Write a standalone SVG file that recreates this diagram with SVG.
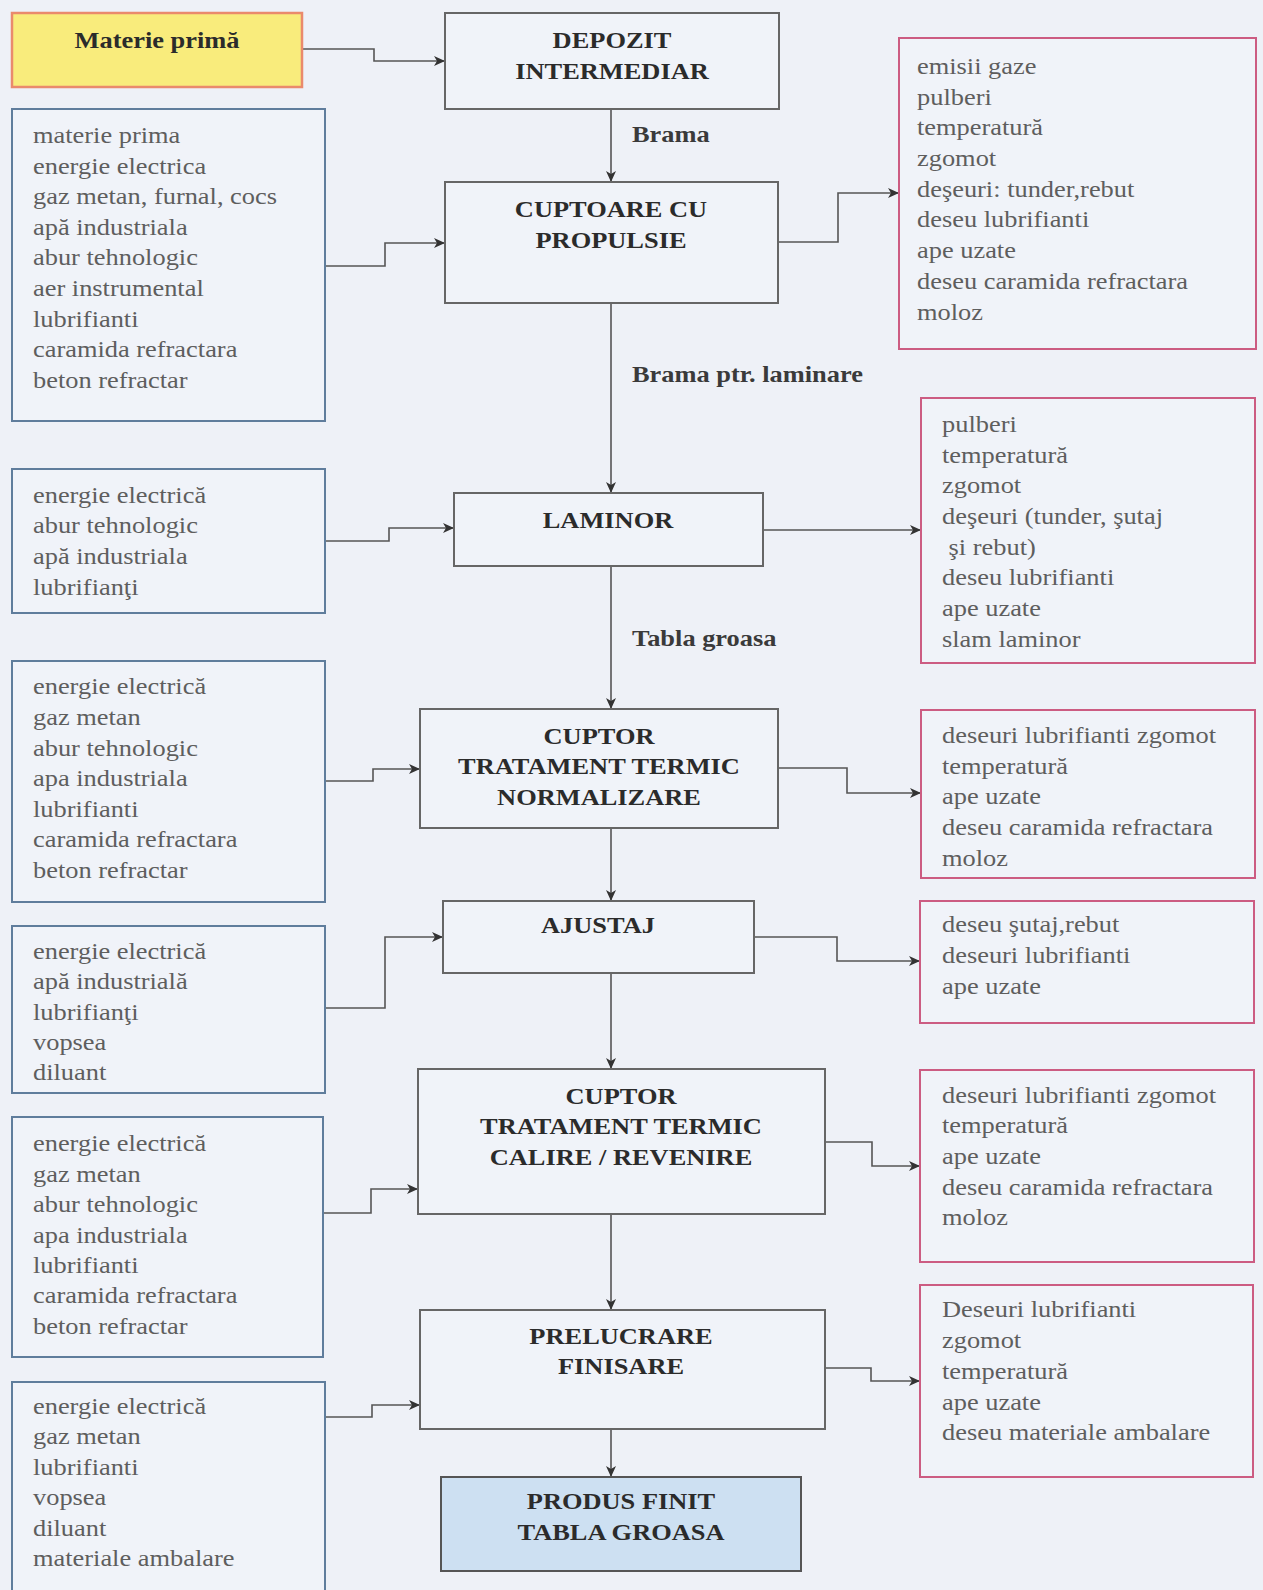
<svg xmlns="http://www.w3.org/2000/svg" width="1263" height="1590" viewBox="0 0 1263 1590">
  <defs>
    <marker id="arrow" markerUnits="userSpaceOnUse" markerWidth="12" markerHeight="10" refX="11" refY="5" orient="auto">
      <path d="M0,0 L11,5 L0,10 L3,5 z" fill="#333"/>
    </marker>
  </defs>
  <style>
    .bg { fill: #eef1f7; }
    .proc { fill: #f0f3f9; stroke: #666; stroke-width: 2; }
    .src { fill: #f9ec7c; stroke: #ea8a6c; stroke-width: 2.5; }
    .prod { fill: #cde0f2; stroke: #555; stroke-width: 2; }
    .in { fill: #f0f3f9; stroke: #5f7d9c; stroke-width: 2; }
    .out { fill: #f0f3f9; stroke: #cc5c82; stroke-width: 2; }
    .conn { fill: none; stroke: #555; stroke-width: 1.6; marker-end: url(#arrow); }
    .title { font-family: "Liberation Serif", "Times New Roman", serif; font-weight: bold; font-size: 24px; fill: #2b2b2b; text-anchor: middle; }
    .lbl { font-family: "Liberation Serif", "Times New Roman", serif; font-weight: bold; font-size: 24px; fill: #3a3a3a; }
    .item { font-family: "Liberation Serif", "Times New Roman", serif; font-size: 24px; fill: #5e5e5e; }
  </style>

  <rect class="bg" x="0" y="0" width="1263" height="1590"/>

  <!-- connectors -->
  <g id="connectors">
    <path class="conn" d="M302,49 H374 V61 H445"/>
    <path class="conn" d="M611,109 V182"/>
    <path class="conn" d="M325,266 H385 V243 H445"/>
    <path class="conn" d="M778,242 H838 V193 H899"/>
    <path class="conn" d="M611,303 V493"/>
    <path class="conn" d="M325,541 H389 V528 H454"/>
    <path class="conn" d="M763,530 H921"/>
    <path class="conn" d="M611,566 V709"/>
    <path class="conn" d="M325,781 H373 V769 H420"/>
    <path class="conn" d="M778,768 H847 V793 H921"/>
    <path class="conn" d="M611,828 V901"/>
    <path class="conn" d="M325,1008 H385 V937 H443"/>
    <path class="conn" d="M754,937 H837 V961 H920"/>
    <path class="conn" d="M611,973 V1069"/>
    <path class="conn" d="M323,1213 H371 V1189 H418"/>
    <path class="conn" d="M825,1142 H872 V1166 H920"/>
    <path class="conn" d="M611,1214 V1310"/>
    <path class="conn" d="M325,1417 H372 V1405 H420"/>
    <path class="conn" d="M825,1368 H871 V1381 H920"/>
    <path class="conn" d="M611,1429 V1477"/>
  </g>

  <!-- flow labels -->
  <g id="labels" transform="matrix(1.1,0,0,1,632,0)">
    <text class="lbl" x="0" y="142">Brama</text>
    <text class="lbl" x="0" y="382">Brama ptr. laminare</text>
    <text class="lbl" x="0" y="646">Tabla groasa</text>
  </g>

  <!-- raw material -->
  <g id="materie-prima">
    <rect class="src" x="12" y="13" width="290" height="74"/>
    <g transform="matrix(1.1,0,0,1,157,0)"><text class="title" x="0" y="48">Materie primă</text></g>
  </g>

  <!-- main process steps -->
  <g id="depozit">
    <rect class="proc" x="445" y="13" width="334" height="96"/>
    <g transform="matrix(1.1,0,0,1,612,0)">
      <text class="title" x="0" y="48">DEPOZIT</text>
      <text class="title" x="0" y="79">INTERMEDIAR</text>
    </g>
  </g>

  <g id="cuptoare">
    <rect class="proc" x="445" y="182" width="333" height="121"/>
    <g transform="matrix(1.1,0,0,1,611,0)">
      <text class="title" x="0" y="217">CUPTOARE CU</text>
      <text class="title" x="0" y="248">PROPULSIE</text>
    </g>
  </g>

  <g id="laminor">
    <rect class="proc" x="454" y="493" width="309" height="73"/>
    <g transform="matrix(1.1,0,0,1,608,0)"><text class="title" x="0" y="528">LAMINOR</text></g>
  </g>

  <g id="cuptor-normalizare">
    <rect class="proc" x="420" y="709" width="358" height="119"/>
    <g transform="matrix(1.1,0,0,1,599,0)">
      <text class="title" x="0" y="744">CUPTOR</text>
      <text class="title" x="0" y="774">TRATAMENT TERMIC</text>
      <text class="title" x="0" y="805">NORMALIZARE</text>
    </g>
  </g>

  <g id="ajustaj">
    <rect class="proc" x="443" y="901" width="311" height="72"/>
    <g transform="matrix(1.1,0,0,1,598,0)"><text class="title" x="0" y="933">AJUSTAJ</text></g>
  </g>

  <g id="cuptor-calire">
    <rect class="proc" x="418" y="1069" width="407" height="145"/>
    <g transform="matrix(1.1,0,0,1,621,0)">
      <text class="title" x="0" y="1104">CUPTOR</text>
      <text class="title" x="0" y="1134">TRATAMENT TERMIC</text>
      <text class="title" x="0" y="1165">CALIRE / REVENIRE</text>
    </g>
  </g>

  <g id="prelucrare">
    <rect class="proc" x="420" y="1310" width="405" height="119"/>
    <g transform="matrix(1.1,0,0,1,621,0)">
      <text class="title" x="0" y="1344">PRELUCRARE</text>
      <text class="title" x="0" y="1374">FINISARE</text>
    </g>
  </g>

  <g id="produs-finit">
    <rect class="prod" x="441" y="1477" width="360" height="94"/>
    <g transform="matrix(1.1,0,0,1,621,0)">
      <text class="title" x="0" y="1509">PRODUS FINIT</text>
      <text class="title" x="0" y="1540">TABLA GROASA</text>
    </g>
  </g>

  <!-- inputs -->
  <g id="in-cuptoare">
    <rect class="in" x="12" y="109" width="313" height="312"/>
    <g transform="matrix(1.1,0,0,1,33,0)">
      <text class="item" x="0" y="143">materie prima</text>
      <text class="item" x="0" y="174">energie electrica</text>
      <text class="item" x="0" y="204">gaz metan, furnal, cocs</text>
      <text class="item" x="0" y="235">apă industriala</text>
      <text class="item" x="0" y="265">abur tehnologic</text>
      <text class="item" x="0" y="296">aer instrumental</text>
      <text class="item" x="0" y="327">lubrifianti</text>
      <text class="item" x="0" y="357">caramida refractara</text>
      <text class="item" x="0" y="388">beton refractar</text>
    </g>
  </g>

  <g id="in-laminor">
    <rect class="in" x="12" y="469" width="313" height="144"/>
    <g transform="matrix(1.1,0,0,1,33,0)">
      <text class="item" x="0" y="503">energie electrică</text>
      <text class="item" x="0" y="533">abur tehnologic</text>
      <text class="item" x="0" y="564">apă industriala</text>
      <text class="item" x="0" y="595">lubrifianţi</text>
    </g>
  </g>

  <g id="in-normalizare">
    <rect class="in" x="12" y="661" width="313" height="241"/>
    <g transform="matrix(1.1,0,0,1,33,0)">
      <text class="item" x="0" y="694">energie electrică</text>
      <text class="item" x="0" y="725">gaz metan</text>
      <text class="item" x="0" y="756">abur tehnologic</text>
      <text class="item" x="0" y="786">apa industriala</text>
      <text class="item" x="0" y="817">lubrifianti</text>
      <text class="item" x="0" y="847">caramida refractara</text>
      <text class="item" x="0" y="878">beton refractar</text>
    </g>
  </g>

  <g id="in-ajustaj">
    <rect class="in" x="12" y="926" width="313" height="167"/>
    <g transform="matrix(1.1,0,0,1,33,0)">
      <text class="item" x="0" y="959">energie electrică</text>
      <text class="item" x="0" y="989">apă industrială</text>
      <text class="item" x="0" y="1020">lubrifianţi</text>
      <text class="item" x="0" y="1050">vopsea</text>
      <text class="item" x="0" y="1080">diluant</text>
    </g>
  </g>

  <g id="in-calire">
    <rect class="in" x="12" y="1117" width="311" height="240"/>
    <g transform="matrix(1.1,0,0,1,33,0)">
      <text class="item" x="0" y="1151">energie electrică</text>
      <text class="item" x="0" y="1182">gaz metan</text>
      <text class="item" x="0" y="1212">abur tehnologic</text>
      <text class="item" x="0" y="1243">apa industriala</text>
      <text class="item" x="0" y="1273">lubrifianti</text>
      <text class="item" x="0" y="1303">caramida refractara</text>
      <text class="item" x="0" y="1334">beton refractar</text>
    </g>
  </g>

  <g id="in-prelucrare">
    <rect class="in" x="12" y="1382" width="313" height="220"/>
    <g transform="matrix(1.1,0,0,1,33,0)">
      <text class="item" x="0" y="1414">energie electrică</text>
      <text class="item" x="0" y="1444">gaz metan</text>
      <text class="item" x="0" y="1475">lubrifianti</text>
      <text class="item" x="0" y="1505">vopsea</text>
      <text class="item" x="0" y="1536">diluant</text>
      <text class="item" x="0" y="1566">materiale ambalare</text>
    </g>
  </g>

  <!-- outputs -->
  <g id="out-cuptoare">
    <rect class="out" x="899" y="38" width="357" height="311"/>
    <g transform="matrix(1.1,0,0,1,917,0)">
      <text class="item" x="0" y="74">emisii gaze</text>
      <text class="item" x="0" y="105">pulberi</text>
      <text class="item" x="0" y="135">temperatură</text>
      <text class="item" x="0" y="166">zgomot</text>
      <text class="item" x="0" y="197">deşeuri: tunder,rebut</text>
      <text class="item" x="0" y="227">deseu lubrifianti</text>
      <text class="item" x="0" y="258">ape uzate</text>
      <text class="item" x="0" y="289">deseu caramida refractara</text>
      <text class="item" x="0" y="320">moloz</text>
    </g>
  </g>

  <g id="out-laminor">
    <rect class="out" x="921" y="398" width="334" height="265"/>
    <g transform="matrix(1.1,0,0,1,942,0)">
      <text class="item" x="0" y="432">pulberi</text>
      <text class="item" x="0" y="463">temperatură</text>
      <text class="item" x="0" y="493">zgomot</text>
      <text class="item" x="0" y="524">deşeuri (tunder, şutaj</text>
      <text class="item" x="0" y="555" xml:space="preserve"> şi rebut)</text>
      <text class="item" x="0" y="585">deseu lubrifianti</text>
      <text class="item" x="0" y="616">ape uzate</text>
      <text class="item" x="0" y="647">slam laminor</text>
    </g>
  </g>

  <g id="out-normalizare">
    <rect class="out" x="921" y="710" width="334" height="168"/>
    <g transform="matrix(1.1,0,0,1,942,0)">
      <text class="item" x="0" y="743">deseuri lubrifianti zgomot</text>
      <text class="item" x="0" y="774">temperatură</text>
      <text class="item" x="0" y="804">ape uzate</text>
      <text class="item" x="0" y="835">deseu caramida refractara</text>
      <text class="item" x="0" y="866">moloz</text>
    </g>
  </g>

  <g id="out-ajustaj">
    <rect class="out" x="920" y="901" width="334" height="122"/>
    <g transform="matrix(1.1,0,0,1,942,0)">
      <text class="item" x="0" y="932">deseu şutaj,rebut</text>
      <text class="item" x="0" y="963">deseuri lubrifianti</text>
      <text class="item" x="0" y="994">ape uzate</text>
    </g>
  </g>

  <g id="out-calire">
    <rect class="out" x="920" y="1070" width="334" height="192"/>
    <g transform="matrix(1.1,0,0,1,942,0)">
      <text class="item" x="0" y="1103">deseuri lubrifianti zgomot</text>
      <text class="item" x="0" y="1133">temperatură</text>
      <text class="item" x="0" y="1164">ape uzate</text>
      <text class="item" x="0" y="1195">deseu caramida refractara</text>
      <text class="item" x="0" y="1225">moloz</text>
    </g>
  </g>

  <g id="out-prelucrare">
    <rect class="out" x="920" y="1285" width="333" height="192"/>
    <g transform="matrix(1.1,0,0,1,942,0)">
      <text class="item" x="0" y="1317">Deseuri lubrifianti</text>
      <text class="item" x="0" y="1348">zgomot</text>
      <text class="item" x="0" y="1379">temperatură</text>
      <text class="item" x="0" y="1410">ape uzate</text>
      <text class="item" x="0" y="1440">deseu materiale ambalare</text>
    </g>
  </g>
</svg>
